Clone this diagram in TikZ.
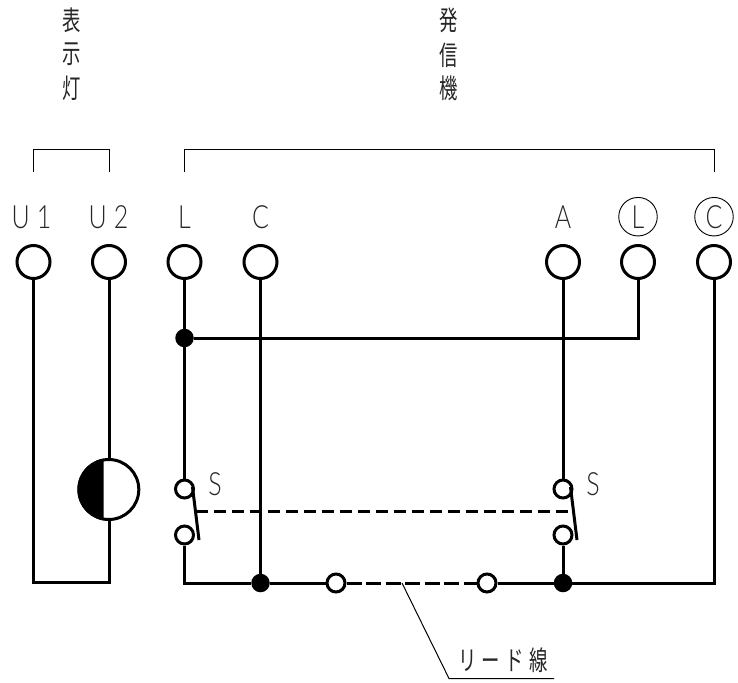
\documentclass[tikz,border=0pt]{standalone}
\usepackage{fontspec}
\newfontfamily\cjk[FakeStretch=0.68]{Noto Sans CJK JP}
\newfontfamily\cjkwide[FakeStretch=0.68,LetterSpace=20]{Noto Sans CJK JP}
\newfontfamily\lat[FakeStretch=0.78]{Lato Light}
\tikzset{
  wire/.style={line width=3pt,line join=miter},
  thinline/.style={line width=1pt},
  term/.style={circle,draw,line width=3pt,fill=white,minimum size=33pt,inner sep=0pt},
  contact/.style={circle,draw,line width=3pt,fill=white,minimum size=18pt,inner sep=0pt},
  smallc/.style={circle,draw,line width=3pt,fill=white,minimum size=18pt,inner sep=0pt},
  junction/.style={circle,fill=black,minimum size=18.5pt,inner sep=0pt},
  dashw/.style={line width=3pt,dash pattern=on 12pt off 6pt},
  dashb/.style={line width=3pt,dash pattern=on 15pt off 4.5pt},
  cjklabel/.style={inner sep=0pt,text=black!85,font=\cjk\fontsize{27}{27}\selectfont},
  latlabel/.style={inner sep=0pt,text=black!85,font=\lat\fontsize{32}{32}\selectfont},
  ringlabel/.style={circle,draw,line width=0.9pt,minimum size=38.5pt,inner sep=0pt,text=black!85,font=\lat\fontsize{32}{32}\selectfont}
}
\begin{document}
\begin{tikzpicture}[x=1pt,y=-1pt]
\useasboundingbox (0,0) rectangle (738,682);
% headings
\node[cjklabel] (h1) at (71.5,20) {表};
\node[cjklabel] (h2) at (71.5,54) {示};
\node[cjklabel] (h3) at (71.5,88) {灯};
\node[cjklabel] (h4) at (449,20) {発};
\node[cjklabel] (h5) at (449,55) {信};
\node[cjklabel] (h6) at (449,88) {機};
% brackets
\draw[thinline] (33.5,172) -- (33.5,149) -- (109,149) -- (109,172);
\draw[thinline] (184.5,172) -- (184.5,149) -- (714,149) -- (714,172);
% terminal labels
\node[latlabel] (lu1) at (31.5,217.5) {U\hspace{7pt}1};
\node[latlabel] (lu2) at (108.5,217.5) {U\hspace{7pt}2};
\node[latlabel] (ll) at (184.5,217.5) {L};
\node[latlabel] (lc) at (260.5,217.5) {C};
\node[latlabel] (la) at (563,217.5) {A};
\node[ringlabel] (rl) at (638,216.7) {L};
\node[ringlabel] (rc) at (714,216.7) {C};
% terminals
\node[term] (u1) at (33.5,262) {};
\node[term] (u2) at (109,262) {};
\node[term] (tl) at (184.5,262) {};
\node[term] (tc) at (260.5,262) {};
\node[term] (ta) at (563,262) {};
\node[term] (trl) at (638,262) {};
\node[term] (trc) at (714,262) {};
% contacts and junctions
\node[contact] (s1a) at (184.5,489) {};
\node[contact] (s1b) at (184.5,535) {};
\node[contact] (s2a) at (563,489) {};
\node[contact] (s2b) at (563,535) {};
\node[smallc] (m1) at (336,583) {};
\node[smallc] (m2) at (487,583) {};
\node[junction] (jtop) at (184.5,338) {};
\node[junction] (jc) at (260.5,583) {};
\node[junction] (ja) at (563,583) {};
% lamp
\coordinate (lampc) at (108.8,489.5);
\begin{scope}
  \clip (60,440) rectangle (103.5,540);
  \fill (lampc) circle (31.3);
\end{scope}
\draw[wire] (lampc) circle (30);
\coordinate (lamptop) at (109,459.5);
\coordinate (lampbot) at (109,519.5);
% wires
\draw[wire] (u1) -- (33.5,582.5) -| (lampbot);
\draw[wire] (u2) -- (lamptop);
\draw[wire] (tl) -- (jtop);
\draw[wire] (jtop) -- (s1a);
\draw[wire] (jtop) -| (trl);
\draw[wire] (s1b) |- (jc);
\draw[wire] (tc) -- (jc);
\draw[wire] (jc) -- (m1);
\draw[dashb] (m1) -- (m2);
\draw[wire] (m2) -- (ja);
\draw[wire] (ta) -- (s2a);
\draw[wire] (s2b) -- (ja);
\draw[wire] (ja) -| (trc);
% switch blades
\coordinate (b1a) at (192.5,487);
\coordinate (b1b) at (199,540);
\coordinate (b2a) at (570.5,487);
\coordinate (b2b) at (577,540);
\draw[wire] (b1a) -- (b1b);
\draw[wire] (b2a) -- (b2b);
\coordinate (d1) at (196,511);
\coordinate (d2) at (572,511);
\draw[dashw] (d1) -- (d2);
\node[latlabel] (s1) at (215,484) {S};
\node[latlabel] (s2) at (593,484) {S};
% leader
\coordinate (le) at (402,583);
\coordinate (lm) at (449,678.5);
\coordinate (lr) at (554,678.5);
\draw[thinline] (le) -- (lm) -- (lr);
\node[inner sep=0pt,text=black!85,font=\cjkwide\fontsize{27}{27}\selectfont] (lead) at (503,660) {リード線};
\end{tikzpicture}
\end{document}
